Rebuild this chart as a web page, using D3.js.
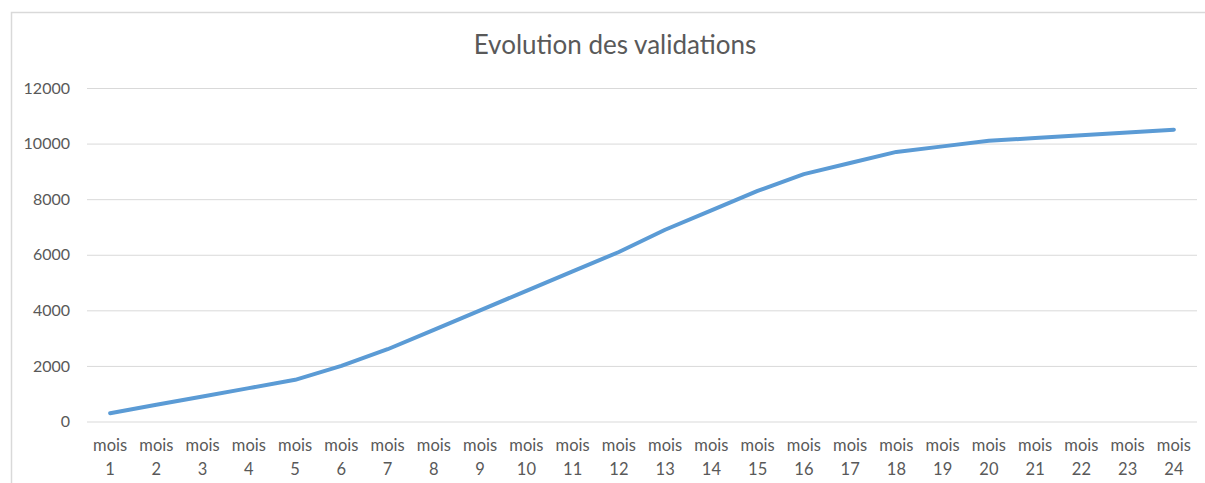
<!DOCTYPE html>
<html><head><meta charset="utf-8">
<script src="https://cdn.jsdelivr.net/npm/d3@7"></script>
<style>body{margin:0;background:#fff;}svg{display:block;}</style>
</head><body>
<svg id="c" width="1205" height="483"></svg>
<script>
const categories = ["mois 1","mois 2","mois 3","mois 4","mois 5","mois 6","mois 7","mois 8","mois 9","mois 10","mois 11","mois 12","mois 13","mois 14","mois 15","mois 16","mois 17","mois 18","mois 19","mois 20","mois 21","mois 22","mois 23","mois 24"];
const values = [300,600,900,1200,1500,2000,2600,3300,4000,4700,5400,6100,6900,7600,8300,8900,9300,9700,9900,10100,10200,10300,10400,10500];
const yTicks = [0,2000,4000,6000,8000,10000,12000];
const title = "Evolution des validations";

const svg = d3.select("#c");
const font = "Lato, 'Open Sans', sans-serif";
const plotL = 87, plotR = 1197, plotT = 88, plotB = 421.5;

svg.append("path").attr("d","M11.5,483 V12.5 H1205").attr("fill","none").attr("stroke","#d9d9d9").attr("stroke-width",1.5);

const x = d3.scaleBand().domain(categories).range([plotL,plotR]);
const y = d3.scaleLinear().domain([0,12000]).range([plotB,plotT]);

const gy = svg.append("g").attr("transform",`translate(${plotL},0)`)
  .call(d3.axisLeft(y).tickValues(yTicks).tickSize(-(plotR-plotL)).tickPadding(17).tickFormat(d3.format("d")));
gy.select(".domain").remove();
gy.selectAll(".tick line").attr("stroke","#d9d9d9").attr("stroke-width",1);
gy.selectAll(".tick text").attr("fill","#595959").style("font-family",font).style("font-size","16px");

const gx = svg.append("g").attr("transform",`translate(0,${plotB})`)
  .call(d3.axisBottom(x).tickSize(0).tickFormat(""));
gx.select(".domain").remove();
gx.selectAll(".tick").each(function(d){
  const parts = d.split(" ");
  const t = d3.select(this).append("text").attr("fill","#595959").attr("text-anchor","middle")
    .style("font-family",font).style("font-size","16.5px");
  t.append("tspan").attr("x",0).attr("y",29).text(parts[0]);
  t.append("tspan").attr("x",0).attr("y",53).text(parts[1]);
});

const line = d3.line().x((d,i)=>x(categories[i])+x.bandwidth()/2).y(d=>y(d));
svg.append("path").datum(values).attr("d",line).attr("fill","none")
  .attr("stroke","#5B9BD5").attr("stroke-width",4).attr("stroke-linecap","round").attr("stroke-linejoin","round");

svg.append("text").attr("x",615).attr("y",54).attr("text-anchor","middle").attr("fill","#595959")
  .style("font-family",font).style("font-size","26px").text(title);
</script>
</body></html>
